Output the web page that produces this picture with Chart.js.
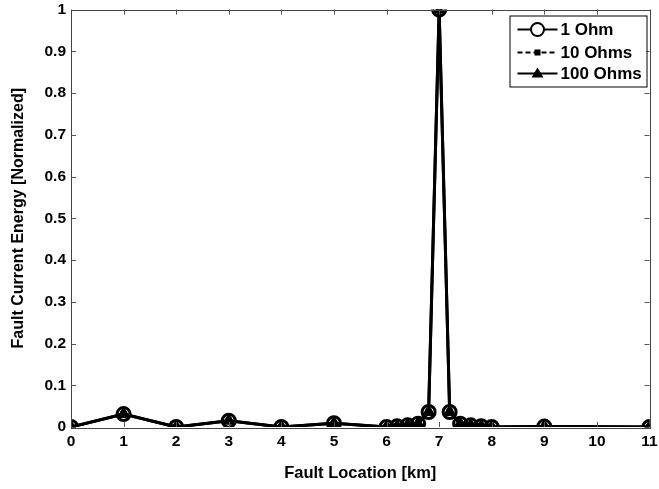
<!DOCTYPE html>
<html>
<head>
<meta charset="utf-8">
<script src="https://cdn.jsdelivr.net/npm/chart.js@4/dist/chart.umd.min.js"></script>
<style>
html,body{margin:0;padding:0;background:#fff;}
#wrap{position:relative;width:659px;height:489px;}
</style>
</head>
<body>
<div id="wrap"><canvas id="c" width="659" height="489"></canvas></div>
<script>
const faultLocation = [0, 1, 2, 3, 4, 5, 6, 6.2, 6.4, 6.6, 6.8, 7, 7.2, 7.4, 7.6, 7.8, 8, 9, 11];
const energy1Ohm   = [0, 0.031, 0, 0.015, 0, 0.009, 0, 0.002, 0.004, 0.008, 0.036, 1, 0.036, 0.008, 0.004, 0.002, 0, 0.001, 0];
const energy10Ohm  = [0, 0.031, 0, 0.015, 0, 0.009, 0, 0.002, 0.004, 0.008, 0.036, 1, 0.036, 0.008, 0.004, 0.002, 0, 0.001, 0];
const energy100Ohm = [0, 0.031, 0, 0.015, 0, 0.009, 0, 0.002, 0.004, 0.008, 0.036, 1, 0.036, 0.008, 0.004, 0.002, 0, 0.001, 0];
const seriesNames = ['1 Ohm', '10 Ohms', '100 Ohms'];
const xTicks = [0,1,2,3,4,5,6,7,8,9,10,11];
const yTicks = [0,0.1,0.2,0.3,0.4,0.5,0.6,0.7,0.8,0.9,1];

const pts = arr => faultLocation.map((x,i)=>({x:x, y:arr[i]}));
const FONT = '"Liberation Sans", Arial, sans-serif';

const innerTicks = {
  id: 'innerTicks',
  afterDatasetsDraw(chart) {
    const {ctx, chartArea:a, scales:{x, y}} = chart;
    ctx.save();
    ctx.strokeStyle = '#555';
    ctx.lineWidth = 1;
    ctx.beginPath();
    xTicks.forEach(v => {
      const px = Math.round(x.getPixelForValue(v)) + 0.5;
      ctx.moveTo(px, a.bottom); ctx.lineTo(px, a.bottom - 5);
      ctx.moveTo(px, a.top); ctx.lineTo(px, a.top + 5);
    });
    yTicks.forEach(v => {
      const py = Math.round(y.getPixelForValue(v)) + 0.5;
      ctx.moveTo(a.left, py); ctx.lineTo(a.left + 5, py);
      ctx.moveTo(a.right, py); ctx.lineTo(a.right - 5, py);
    });
    ctx.stroke();
    ctx.strokeStyle = '#444';
    ctx.strokeRect(Math.round(a.left)+0.5, Math.round(a.top)+0.5, Math.round(a.right-a.left), Math.round(a.bottom-a.top));
    // x tick labels
    ctx.fillStyle = '#000';
    ctx.font = 'bold 15.5px ' + FONT;
    ctx.textAlign = 'center';
    ctx.textBaseline = 'middle';
    xTicks.forEach(v => {
      ctx.fillText(String(v), x.getPixelForValue(v), a.bottom + 15);
    });
    ctx.restore();
  }
};

const boxLegend = {
  id: 'boxLegend',
  afterDraw(chart) {
    const ctx = chart.ctx;
    const a = chart.chartArea;
    const bx = a.right - 140, by = a.top + 6, bw = 137, bh = 71;
    ctx.save();
    ctx.fillStyle = '#fff';
    ctx.fillRect(bx, by, bw, bh);
    ctx.strokeStyle = '#000';
    ctx.lineWidth = 1;
    ctx.strokeRect(bx+0.5, by+0.5, bw, bh);
    const rows = [by+14, by+37, by+58];
    const x0 = bx + 8, x1 = bx + 48;
    ctx.font = 'bold 17px ' + FONT;
    ctx.textBaseline = 'middle';
    chart.data.datasets.slice().reverse().forEach((ds, i) => {
      const yy = rows[i];
      ctx.strokeStyle = '#000';
      ctx.lineWidth = 2;
      ctx.setLineDash(ds.borderDash || []);
      ctx.beginPath(); ctx.moveTo(x0, yy); ctx.lineTo(x1, yy); ctx.stroke();
      ctx.setLineDash([]);
      const cx = (x0+x1)/2;
      if (ds.pointStyle === 'circle') {
        ctx.fillStyle = '#fff';
        ctx.beginPath(); ctx.arc(cx, yy, 6.5, 0, Math.PI*2); ctx.fill();
        ctx.lineWidth = 2; ctx.stroke();
      } else if (ds.pointStyle === 'rect') {
        ctx.fillStyle = '#000';
        ctx.fillRect(cx-3, yy-3, 6, 6);
      } else {
        ctx.fillStyle = '#000';
        ctx.beginPath(); ctx.moveTo(cx, yy-6); ctx.lineTo(cx+6, yy+4); ctx.lineTo(cx-6, yy+4); ctx.closePath(); ctx.fill();
      }
      ctx.fillStyle = '#000';
      ctx.fillText(ds.label, x1 + 3, yy + 1);
    });
    ctx.restore();
  }
};

new Chart(document.getElementById('c'), {
  type: 'line',
  data: {
    datasets: [
      { label: seriesNames[2], data: pts(energy100Ohm), borderColor:'#000', backgroundColor:'#000',
        borderWidth: 3, pointStyle:'triangle', pointRadius:5, pointBackgroundColor:'#000', pointBorderColor:'#000', tension:0, order:3 },
      { label: seriesNames[1], data: pts(energy10Ohm), borderColor:'#000', backgroundColor:'#000',
        borderWidth: 2, borderDash:[5,3], pointStyle:'rect', pointRadius:3, pointBackgroundColor:'#000', pointBorderColor:'#000', tension:0, order:2 },
      { label: seriesNames[0], data: pts(energy1Ohm), borderColor:'#000', backgroundColor:'rgba(0,0,0,0)',
        borderWidth: 3, pointStyle:'circle', pointRadius:6.5, pointBorderWidth:3, pointBackgroundColor:'rgba(0,0,0,0)', pointBorderColor:'#000', tension:0, order:1 }
    ]
  },
  options: {
    animation: false,
    responsive: false,
    layout: { padding: { top: 9, right: 7, left: 0, bottom: 0 } },
    plugins: { legend: { display: false }, tooltip: { enabled: false } },
    scales: {
      x: {
        type: 'linear', min: 0, max: 11,
        afterBuildTicks: s => { s.ticks = xTicks.map(v => ({value: v})); },
        grid: { display: false, drawTicks: false },
        border: { display: false },
        ticks: { display: false },
        title: { display: true, text: 'Fault Location [km]', color:'#000', font: { family: FONT, weight: 'bold', size: 16.5 }, padding: { top: 0, bottom: 6 } },
        afterFit: s => { s.height = 62; s.paddingLeft = 0; s.paddingRight = 0; }
      },
      y: {
        type: 'linear', min: 0, max: 1,
        afterBuildTicks: s => { s.ticks = yTicks.map(v => ({value: v})); },
        grid: { display: false, drawTicks: false },
        border: { display: false },
        ticks: { color:'#000', font: { family: FONT, weight: 'bold', size: 15.5 }, padding: 5,
                 callback: v => String(Math.round(v*10)/10) },
        title: { display: true, text: 'Fault Current Energy [Normalized]', color:'#000', font: { family: FONT, weight: 'bold', size: 16 }, padding: { top: 9, bottom: 4 } },
        afterFit: s => { s.width = 71; s.paddingTop = 0; s.paddingBottom = 0; }
      }
    }
  },
  plugins: [innerTicks, boxLegend]
});
</script>
</body>
</html>
